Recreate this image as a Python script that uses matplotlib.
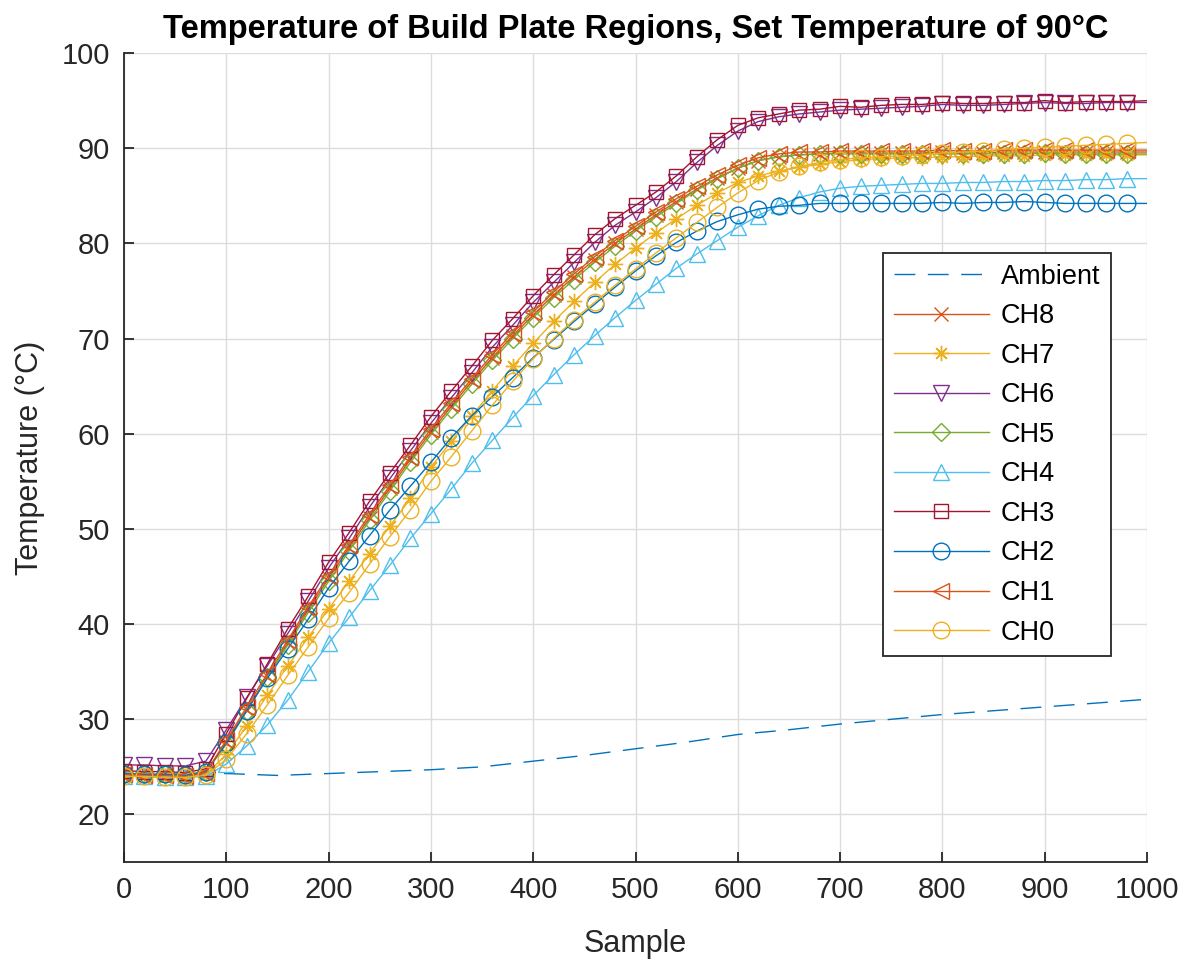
"""Build plate region temperatures, set point 90 C"""
import matplotlib
matplotlib.use("Agg")
import matplotlib.pyplot as plt

plt.rcParams['font.family'] = ['Liberation Sans', 'DejaVu Sans']

# samples every 20, markers on all but the last point
SAMPLES = list(range(0, 1001, 20))

CH3 = [24.6, 24.5, 24.5, 24.4, 24.8, 28.5, 32.2, 35.8, 39.5, 42.9, 46.5, 49.6, 52.9,
       55.9, 58.8, 61.8, 64.5, 67.1, 69.8, 72.1, 74.5, 76.7, 78.8, 80.9, 82.6, 84.0,
       85.4, 87.1, 89.1, 90.9, 92.4, 93.2, 93.6, 94.0, 94.1, 94.4, 94.3, 94.5, 94.6,
       94.6, 94.8, 94.7, 94.7, 94.8, 94.8, 95.0, 94.8, 94.9, 94.9, 94.9, 95.0]
CH6 = [25.2, 25.2, 25.1, 25.1, 25.6, 28.9, 32.3, 35.6, 39.0, 42.4, 45.9, 49.0, 52.3,
       55.3, 58.2, 61.1, 63.8, 66.4, 69.1, 71.4, 73.8, 75.9, 78.0, 80.1, 81.9, 83.3,
       84.8, 86.5, 88.5, 90.3, 91.8, 92.8, 93.3, 93.6, 93.8, 94.0, 94.1, 94.2, 94.3,
       94.4, 94.6, 94.5, 94.5, 94.6, 94.7, 94.8, 94.7, 94.7, 94.8, 94.8, 94.8]
CH1 = [24.2, 24.1, 24.1, 24.0, 24.4, 27.8, 31.3, 34.8, 38.3, 41.8, 45.1, 48.3, 51.5,
       54.6, 57.6, 60.5, 63.2, 65.8, 68.3, 70.6, 72.8, 74.9, 76.8, 78.6, 80.3, 81.8,
       83.3, 84.7, 86.0, 87.2, 88.2, 89.0, 89.4, 89.6, 89.6, 89.7, 89.7, 89.7, 89.7,
       89.7, 89.8, 89.7, 89.7, 89.8, 89.8, 89.8, 89.8, 89.8, 89.8, 89.8, 89.8]
CH8 = [24.1, 24.1, 24.0, 24.0, 24.3, 27.6, 31.0, 34.5, 38.0, 41.5, 44.8, 48.0, 51.2,
       54.3, 57.3, 60.2, 62.9, 65.5, 68.0, 70.3, 72.5, 74.6, 76.5, 78.3, 80.0, 81.5,
       83.0, 84.4, 85.7, 86.9, 87.9, 88.7, 89.1, 89.3, 89.4, 89.5, 89.5, 89.5, 89.5,
       89.5, 89.6, 89.5, 89.5, 89.6, 89.6, 89.6, 89.6, 89.6, 89.6, 89.6, 89.6]
CH5 = [24.3, 24.3, 24.2, 24.2, 24.5, 27.4, 30.9, 34.4, 37.8, 41.2, 44.5, 47.7, 50.9,
       54.0, 57.0, 59.9, 62.6, 65.2, 67.7, 70.0, 72.2, 74.3, 76.2, 78.0, 79.7, 81.3,
       82.8, 84.2, 85.6, 86.8, 87.9, 88.7, 89.1, 89.3, 89.4, 89.4, 89.4, 89.4, 89.4,
       89.4, 89.4, 89.4, 89.4, 89.4, 89.4, 89.5, 89.4, 89.4, 89.4, 89.4, 89.4]
CH7 = [24.0, 24.0, 23.9, 23.9, 24.2, 26.3, 29.3, 32.5, 35.6, 38.6, 41.6, 44.5, 47.4,
       50.3, 53.2, 56.5, 59.2, 61.9, 64.5, 67.1, 69.5, 71.8, 73.9, 75.9, 77.8, 79.5,
       81.1, 82.6, 84.0, 85.3, 86.4, 87.1, 87.6, 88.0, 88.3, 88.6, 88.8, 88.9, 89.0,
       89.0, 89.1, 89.1, 89.2, 89.2, 89.2, 89.3, 89.3, 89.3, 89.3, 89.3, 89.3]
CH2 = [24.3, 24.2, 24.2, 24.1, 24.5, 27.5, 30.9, 34.3, 37.4, 40.5, 43.8, 46.6, 49.3,
       52.0, 54.5, 57.0, 59.6, 61.9, 63.9, 65.9, 68.0, 69.9, 71.8, 73.6, 75.4, 77.1,
       78.7, 80.1, 81.3, 82.3, 83.0, 83.6, 83.9, 84.0, 84.2, 84.2, 84.2, 84.2, 84.2,
       84.2, 84.3, 84.2, 84.3, 84.3, 84.4, 84.3, 84.2, 84.2, 84.2, 84.2, 84.2]
CH0 = [24.0, 24.0, 23.9, 23.9, 24.1, 25.8, 28.5, 31.5, 34.6, 37.6, 40.6, 43.3, 46.3,
       49.2, 52.0, 55.0, 57.6, 60.3, 63.0, 65.5, 67.9, 70.0, 72.0, 73.8, 75.6, 77.3,
       79.0, 80.6, 82.2, 83.8, 85.3, 86.6, 87.5, 88.1, 88.5, 88.8, 89.0, 89.1, 89.2,
       89.3, 89.5, 89.6, 89.7, 89.9, 90.0, 90.1, 90.2, 90.3, 90.4, 90.5, 90.6]
CH4 = [24.0, 24.0, 23.9, 23.9, 24.0, 25.3, 27.2, 29.4, 32.0, 35.0, 38.0, 40.7, 43.5,
       46.2, 49.0, 51.6, 54.2, 56.9, 59.3, 61.7, 64.0, 66.2, 68.3, 70.3, 72.2, 74.0,
       75.7, 77.4, 78.9, 80.3, 81.7, 82.9, 84.0, 84.8, 85.4, 85.8, 86.0, 86.1, 86.2,
       86.3, 86.3, 86.4, 86.4, 86.5, 86.5, 86.6, 86.6, 86.7, 86.7, 86.8, 86.8]

AMBIENT_X = [0, 100, 150, 200, 250, 300, 350, 400, 450, 500, 550, 600, 650, 700,
             750, 800, 850, 900, 950, 1000]
AMBIENT = [24.2, 24.3, 24.1, 24.3, 24.5, 24.7, 25.0, 25.6, 26.2, 26.9, 27.6, 28.4,
           28.9, 29.5, 30.0, 30.5, 30.9, 31.3, 31.7, 32.1]

BLUE, ORANGE, YELLOW = '#0072BD', '#D95319', '#EDB120'
PURPLE, GREEN, LBLUE, DRED = '#7E2F8E', '#77AC30', '#4DBEEE', '#A2142F'

# label, data, colour, marker, size
CHANNELS = [
    ('CH8', CH8, ORANGE, 'x', 10),
    ('CH7', CH7, YELLOW, (8, 2, 0), 11),
    ('CH6', CH6, PURPLE, 'v', 12),
    ('CH5', CH5, GREEN, 'D', 9),
    ('CH4', CH4, LBLUE, '^', 12),
    ('CH3', CH3, DRED, 's', 10),
    ('CH2', CH2, BLUE, 'o', 12),
    ('CH1', CH1, ORANGE, '<', 12),
    ('CH0', CH0, YELLOW, 'o', 12),
]

fig = plt.figure(figsize=(11.89, 9.59), dpi=100)
ax = fig.add_axes([0.1043, 0.1011, 0.8604, 0.8436])

ax.plot(AMBIENT_X, AMBIENT, color=BLUE, lw=1.0, dashes=(15, 9), label='Ambient')
for name, vals, col, mk, ms in CHANNELS:
    ax.plot(SAMPLES, vals, color=col, lw=1.0, marker=mk, ms=ms, mfc='none',
            mec=col, mew=1.0, markevery=slice(0, len(vals) - 1), label=name)

ax.set_xlim(0, 1000)
ax.set_ylim(15, 100)
ax.set_xticks(range(0, 1001, 100))
ax.set_yticks(range(20, 101, 10))
ax.grid(True, color='#dcdcdc', lw=1.0)
ax.set_axisbelow(True)
for s in ('top', 'right'):
    ax.spines[s].set_visible(False)
for s in ('left', 'bottom'):
    ax.spines[s].set_color('#262626')
    ax.spines[s].set_linewidth(1.3)
ax.tick_params(direction='in', length=7, width=1.3, colors='#262626',
               labelsize=21, pad=10)

ax.set_xlabel('Sample', fontsize=22, color='#262626', labelpad=18)
ax.set_ylabel('Temperature (°C)', fontsize=22, color='#262626', labelpad=12)
ax.set_title('Temperature of Build Plate Regions, Set Temperature of 90°C',
             fontsize=23.5, fontweight='bold', pad=11)

leg = ax.legend(loc='upper right', bbox_to_anchor=(0.965, 0.753), borderaxespad=0,
                fontsize=19.5, handlelength=3.5, labelspacing=0.5, fancybox=False,
                framealpha=1, edgecolor='#262626', borderpad=0.4, handletextpad=0.45)
leg.get_frame().set_linewidth(1.3)

fig.savefig('out.png', dpi=100)
